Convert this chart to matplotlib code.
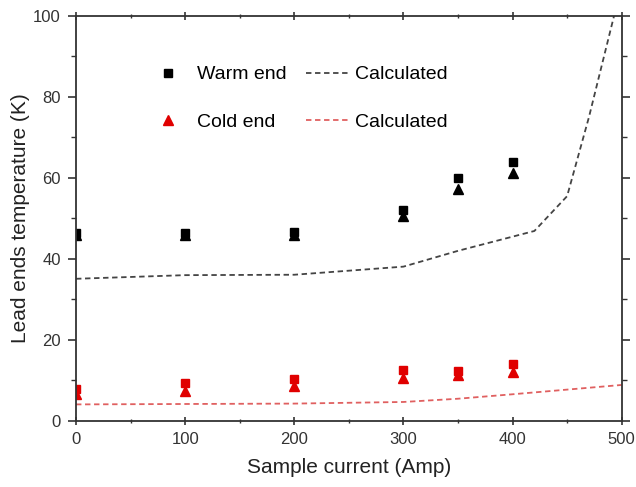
import matplotlib
matplotlib.use("Agg")
import matplotlib.pyplot as plt
from matplotlib.ticker import MultipleLocator

plt.rcParams["font.family"] = ["Liberation Sans", "DejaVu Sans"]

# measured points
current = [0, 100, 200, 300, 350, 400]
warm_sq = [46.5, 46.5, 46.6, 52.2, 60.0, 64.0]
warm_tri = [46.0, 46.0, 46.0, 50.6, 57.2, 61.2]
cold_sq = [7.8, 9.4, 10.4, 12.5, 12.3, 14.0]
cold_tri = [6.6, 7.3, 8.6, 10.7, 11.4, 12.2]

# calculated curves
calc_warm_x = [0, 100, 200, 300, 350, 420, 450, 470, 493]
calc_warm_y = [35.1, 36.0, 36.1, 38.1, 42.0, 46.9, 55.5, 75.0, 100.0]
calc_cold_x = [0, 100, 200, 300, 350, 400, 500]
calc_cold_y = [4.1, 4.2, 4.3, 4.7, 5.5, 6.6, 8.9]

fig = plt.figure(figsize=(6.36, 4.87), dpi=100)
ax = fig.add_axes([0.1195, 0.1355, 0.858, 0.832])

ax.plot(current, warm_sq, "s", color="black", markersize=6, label="Warm end")
ax.plot(current, warm_tri, "^", color="black", markersize=6.5)
ax.plot(current, cold_sq, "s", color="#e00000", markersize=6)
ax.plot(current, cold_tri, "^", color="#e00000", markersize=6.5, label="Cold end")
ax.plot(calc_warm_x, calc_warm_y, "--", color="#444444", linewidth=1.3,
        dashes=(3, 2), label="Calculated")
ax.plot(calc_cold_x, calc_cold_y, "--", color="#e06060", linewidth=1.3,
        dashes=(3, 2), label="Calculated")

ax.set_xlim(0, 500)
ax.set_ylim(0, 100)
ax.xaxis.set_major_locator(MultipleLocator(100))
ax.xaxis.set_minor_locator(MultipleLocator(50))
ax.yaxis.set_major_locator(MultipleLocator(20))
ax.yaxis.set_minor_locator(MultipleLocator(10))
ax.tick_params(which="both", direction="in", top=True, right=True,
               labelsize=12, colors="#333333")
ax.tick_params(axis="x", which="both", direction="inout", pad=5)
ax.tick_params(axis="y", which="both", direction="out", left=True, pad=5)
ax.tick_params(axis="y", which="both", right=True)
ax.tick_params(which="major", length=6, width=1.2)
ax.tick_params(which="minor", length=3.5, width=1.0)
for s in ax.spines.values():
    s.set_linewidth(1.3)
    s.set_color("#333333")

ax.set_xlabel("Sample current (Amp)", fontsize=15, color="#222222", labelpad=8)
ax.set_ylabel("Lead ends temperature (K)", fontsize=15, color="#222222",
              labelpad=2)

handles, labels = ax.get_legend_handles_labels()
ax.legend(handles, labels, ncol=2, frameon=False, fontsize=14,
          loc="upper left", bbox_to_anchor=(0.098, 0.92),
          handlelength=2.2, handletextpad=0.35, columnspacing=1.0,
          labelspacing=1.55, markerscale=1.0)

fig.savefig("out.png", dpi=100)
